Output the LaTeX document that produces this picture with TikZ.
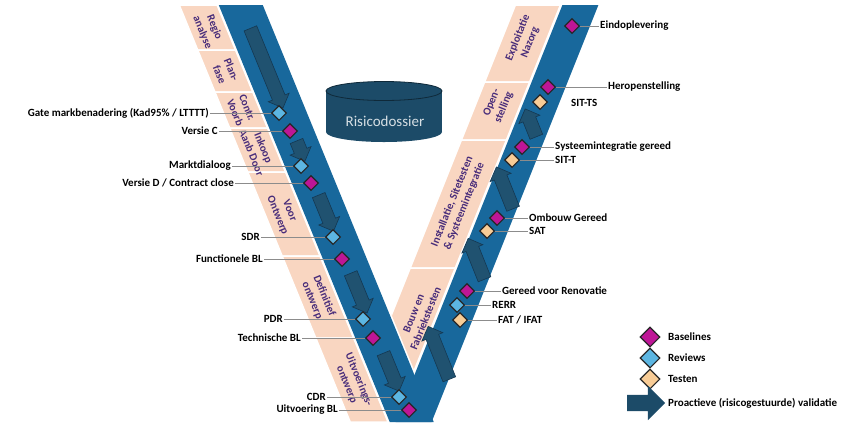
\documentclass[tikz,border=0pt]{standalone}
\usepackage{fontspec}
\setmainfont{Carlito}
\usetikzlibrary{shapes.geometric,shapes.arrows}

\definecolor{bandblue}{RGB}{24,104,156}
\definecolor{arrowblue}{RGB}{32,82,112}
\definecolor{arrowedge}{RGB}{20,56,82}
\definecolor{peach}{RGB}{249,214,193}
\definecolor{peachtext}{RGB}{72,44,122}
\definecolor{dossier}{RGB}{28,75,104}
\definecolor{baseline}{RGB}{190,22,150}
\definecolor{review}{RGB}{92,182,226}
\definecolor{testen}{RGB}{248,204,150}
\definecolor{linegray}{RGB}{140,140,140}

\tikzset{
  dmd/.style={diamond,draw=black!85,line width=1.1pt,inner sep=0pt,minimum width=15pt,minimum height=15pt},
  bl/.style={dmd,fill=baseline},
  rv/.style={dmd,fill=review},
  ts/.style={dmd,fill=testen},
  lgd/.style={minimum width=20pt,minimum height=20pt},
  lbl/.style={font=\bfseries\fontsize{11}{12}\selectfont,inner sep=1pt},
  fase/.style={font=\bfseries\fontsize{11}{13}\selectfont,text=peachtext,align=center,inner sep=0pt},
  fasevak/.style={fill=peach,draw=white,line width=1.5pt},
  conn/.style={draw=linegray,line width=0.8pt},
  pijl/.style={single arrow,fill=arrowblue,draw=arrowedge,line width=0.6pt,inner sep=0pt,text height=13pt,text depth=0pt,minimum width=22pt,single arrow head extend=4.5pt},
}

\begin{document}
\begin{tikzpicture}[x=1pt,y=-1pt]
\useasboundingbox (0,0) rectangle (851,424);

% de V
\begin{scope}[y={(0.41pt,-1pt)}]
  \fill[bandblue] (216.7,5) -- (260.7,5) -- (260.7,422) -- (216.7,422) -- cycle;
\end{scope}
\begin{scope}[y={(-0.4pt,-1pt)}]
  \fill[bandblue] (564.4,5) -- (600.4,5) -- (600.4,422) -- (564.4,422) -- cycle;
\end{scope}
\begin{scope}[y={(0.41pt,-1pt)}]
  \foreach \a/\b in {5/50,50/92,92/128,128/172,172/256,256/338,338/422}
    \filldraw[fasevak] (177.2,\a) -- (215,\a) -- (215,\b) -- (177.2,\b) -- cycle;
  \node[fase,rotate=-67.7] (regio) at (196.1,30) {Regio\\analyse};
  \node[fase,rotate=-67.7] (plan) at (196.1,72) {Plan-\\fase};
  \node[fase,rotate=-67.7] (contr) at (196.1,110) {Contr.\\Voorb};
  \node[fase,rotate=-67.7] (inkoop) at (196.1,150) {Inkoop\\Aanb Door};
  \node[fase,rotate=-67.7] (voor) at (196.1,213) {Voor\\Ontwerp};
  \node[fase,rotate=-67.7] (definitief) at (196.1,298) {Definitief\\ontwerp};
  \node[fase,rotate=-67.7] (uitvoering) at (196.1,382) {Uitvoerings-\\ontwerp};
  \begin{scope}
    \clip (262.5,0) -- (900,0) -- (900,424) -- (262.5,424) -- cycle;
    \begin{scope}[y={(-0.4pt,-1pt)}]
      \foreach \a/\b in {5/82,82/140,140/268,268/422}
        \filldraw[fasevak] (517.4,\a) -- (562.4,\a) -- (562.4,\b) -- (517.4,\b) -- cycle;
    \end{scope}
  \end{scope}
\end{scope}
\begin{scope}[y={(-0.4pt,-1pt)}]
  \node[fase,rotate=68.2] (exploitatie) at (539.9,40) {Exploitatie\\Nazorg};
  \node[fase,rotate=68.2] (open) at (539.9,105) {Open-\\stelling};
  \node[fase,rotate=68.2] (installatie) at (539.9,204) {Installatie, Sitetesten\\\& Systeemintegratie};
  \node[fase,rotate=68.2] (bouw) at (546,316) {Bouw en\\Fabriekstesten};
\end{scope}

% validatiepijlen
\node[pijl,rotate=-67.7,minimum height=86pt] (la1) at (265.4,65) {};
\node[pijl,rotate=-67.7,minimum height=22pt] (la2) at (299.4,148) {};
\node[pijl,rotate=-67.7,minimum height=39pt] (la3) at (324.8,210) {};
\node[pijl,rotate=-67.7,minimum height=43pt] (la4) at (357.6,290) {};
\node[pijl,rotate=-67.7,minimum height=41pt] (la5) at (390,369) {};
\node[pijl,rotate=111.8,minimum height=57pt] (ra1) at (440,356) {};
\node[pijl,rotate=111.8,minimum height=44pt] (ra2) at (477.6,262) {};
\node[pijl,rotate=111.8,minimum height=45pt] (ra3) at (506,191) {};
\node[pijl,rotate=111.8,minimum height=30pt] (ra4) at (532,126) {};

% risicodossier
\fill[dossier] (326,91) rectangle (442,132);
\fill[dossier] (384,132) ellipse [x radius=58,y radius=10];
\filldraw[fill=dossier,draw=black!45!dossier,line width=0.8pt] (384,91) ellipse [x radius=58,y radius=9.5];
\node[text=white!82!dossier,font=\fontsize{15}{16}\selectfont] (risico) at (385,121) {Risicodossier};

% linkerbeen
\node[rv] (gate) at (279,113) {};
\node[bl] (versiec) at (290,131) {};
\node[rv] (markt) at (301,166) {};
\node[bl] (versied) at (311,183) {};
\node[rv] (sdr) at (333,237) {};
\node[bl] (fbl) at (342,259) {};
\node[rv] (pdr) at (363,319) {};
\node[bl] (tbl) at (373,338) {};
\node[rv] (cdr) at (399,397) {};
\node[bl] (ubl) at (409,410) {};
\node[lbl,anchor=east] (tgate) at (210,113) {Gate markbenadering (Kad95\% / LTTTT)};
\node[lbl,anchor=east] (tversiec) at (219,131) {Versie C};
\node[lbl,anchor=east] (tmarkt) at (232,166) {Marktdialoog};
\node[lbl,anchor=east] (tversied) at (235,183) {Versie D / Contract close};
\node[lbl,anchor=east] (tsdr) at (261,237) {SDR};
\node[lbl,anchor=east] (tfbl) at (264,259) {Functionele BL};
\node[lbl,anchor=east] (tpdr) at (284,319) {PDR};
\node[lbl,anchor=east] (ttbl) at (302,338) {Technische BL};
\node[lbl,anchor=east] (tcdr) at (327,397) {CDR};
\node[lbl,anchor=east] (tubl) at (339,410) {Uitvoering BL};
\foreach \t/\d in {tgate/gate,tversiec/versiec,tmarkt/markt,tversied/versied,tsdr/sdr,tfbl/fbl,tpdr/pdr,ttbl/tbl,tcdr/cdr,tubl/ubl}
  \draw[conn] (\t) -- (\d);

% rechterbeen
\node[bl] (eind) at (572,26) {};
\node[bl] (herop) at (548,87) {};
\node[ts] (sitts) at (540,102) {};
\node[bl] (sysint) at (522,147) {};
\node[ts] (sitt) at (512,160) {};
\node[bl] (ombouw) at (497,218) {};
\node[ts] (sat) at (487,231) {};
\node[bl] (renovatie) at (467,291) {};
\node[rv] (rerr) at (457,305) {};
\node[ts] (fat) at (460,320) {};
\node[lbl,anchor=west] (teind) at (599,26) {Eindoplevering};
\node[lbl,anchor=west] (therop) at (607,87) {Heropenstelling};
\node[lbl,anchor=west] (tsitts) at (570,103) {SIT-TS};
\node[lbl,anchor=west] (tsysint) at (554,147) {Systeemintegratie gereed};
\node[lbl,anchor=west] (tsitt) at (554,160) {SIT-T};
\node[lbl,anchor=west] (tombouw) at (528,218) {Ombouw Gereed};
\node[lbl,anchor=west] (tsat) at (528,231) {SAT};
\node[lbl,anchor=west] (trenovatie) at (501,291) {Gereed voor Renovatie};
\node[lbl,anchor=west] (trerr) at (491,305) {RERR};
\node[lbl,anchor=west] (tfat) at (497,320) {FAT / IFAT};
\foreach \d/\t in {eind/teind,herop/therop,sysint/tsysint,sitt/tsitt,ombouw/tombouw,sat/tsat,renovatie/trenovatie,rerr/trerr,fat/tfat}
  \draw[conn] (\d) -- (\t);

% legenda
\node[bl,lgd] (lgbl) at (650,337) {};
\node[rv,lgd] (lgrv) at (650,358) {};
\node[ts,lgd] (lgts) at (650,379) {};
\node[single arrow,fill=dossier,inner sep=0pt,text height=16pt,text depth=0pt,minimum height=38pt,minimum width=34pt,single arrow head extend=9pt] (lgpijl) at (642,403) {};
\node[lbl,anchor=west] (tlgbl) at (667,337) {Baselines};
\node[lbl,anchor=west] (tlgrv) at (667,358) {Reviews};
\node[lbl,anchor=west] (tlgts) at (667,379) {Testen};
\node[lbl,anchor=west] (tlgpijl) at (667,403) {Proactieve (risicogestuurde) validatie};
\end{tikzpicture}
\end{document}
